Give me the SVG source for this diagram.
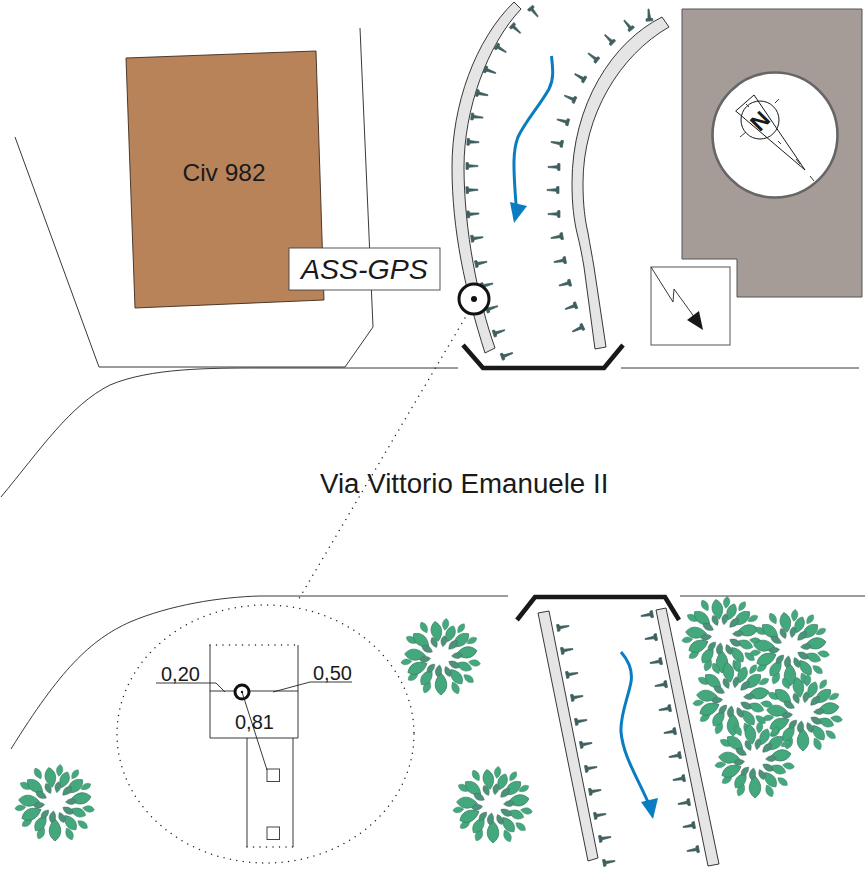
<svg xmlns="http://www.w3.org/2000/svg" width="866" height="870" viewBox="0 0 866 870">
<style>
.ln{fill:none;stroke:#222;stroke-width:.9}
.curb{fill:#e6e5e5;stroke:#222;stroke-width:.9}
.br{fill:none;stroke:#1a1717;stroke-width:4.6}
.blue{fill:none;stroke:#0a7dc2;stroke-width:3}
.bh{fill:#0a7dc2}
.nail{fill:#3e5f5e;stroke:#3e5f5e;stroke-width:.7}
.t{font-family:"Liberation Sans",Arial,sans-serif;fill:#1a1a1a}
.dot{fill:none;stroke:#222;stroke-width:1.5;stroke-linecap:round;stroke-dasharray:0 6.5}
.lf{fill:#43a97c;stroke:#3b7c66;stroke-width:.7}
.lfi{fill:#4c9278;stroke:#37685a;stroke-width:.7}
</style>
<defs>
<path id="nail" d="M-6 -3.400L-3.800 -3.400L-3 -1.300L6 -.5L6 .5L-3 1.300L-3.800 3.400L-6 3.400Z"/>
<path id="leaf" d="M0 -10C7 -5 7 3 0 10C-7 3 -7 -5 0 -10Z"/>
<g id="bush">
<g class="lf">
<use href="#leaf" transform="rotate(8) translate(0,-33) scale(.6)"/>
<use href="#leaf" transform="rotate(35) translate(0,-35) scale(.55)"/>
<use href="#leaf" transform="rotate(62) translate(0,-35) scale(.55)"/>
<use href="#leaf" transform="rotate(100) translate(0,-34) scale(.6)"/>
<use href="#leaf" transform="rotate(128) translate(0,-35) scale(.6)"/>
<use href="#leaf" transform="rotate(155) translate(0,-34) scale(.65)"/>
<use href="#leaf" transform="rotate(205) translate(0,-33) scale(.65)"/>
<use href="#leaf" transform="rotate(235) translate(0,-34) scale(.6)"/>
<use href="#leaf" transform="rotate(262) translate(0,-35) scale(.55)"/>
<use href="#leaf" transform="rotate(300) translate(0,-34) scale(.6)"/>
<use href="#leaf" transform="rotate(330) translate(0,-34) scale(.6)"/>
<use href="#leaf" transform="rotate(-10) translate(0,-26)"/>
<use href="#leaf" transform="rotate(22) translate(0,-25) scale(.85)"/>
<use href="#leaf" transform="rotate(50) translate(0,-26)"/>
<use href="#leaf" transform="rotate(80) translate(0,-26) scale(1.05)"/>
<use href="#leaf" transform="rotate(112) translate(0,-25) scale(.8)"/>
<use href="#leaf" transform="rotate(142) translate(0,-25) scale(.9)"/>
<use href="#leaf" transform="rotate(180) translate(0,-27) scale(1.1)"/>
<use href="#leaf" transform="rotate(215) translate(0,-25) scale(.9)"/>
<use href="#leaf" transform="rotate(245) translate(0,-26) scale(1.05)"/>
<use href="#leaf" transform="rotate(275) translate(0,-26) scale(1.05)"/>
<use href="#leaf" transform="rotate(310) translate(0,-26)"/>
</g>
<g class="lfi">
<use href="#leaf" transform="rotate(10) translate(0,-16) scale(.55)"/>
<use href="#leaf" transform="rotate(45) translate(0,-17) scale(.6)"/>
<use href="#leaf" transform="rotate(85) translate(0,-16) scale(.55)"/>
<use href="#leaf" transform="rotate(120) translate(0,-15) scale(.6)"/>
<use href="#leaf" transform="rotate(155) translate(0,-16) scale(.55)"/>
<use href="#leaf" transform="rotate(190) translate(0,-14) scale(.6)"/>
<use href="#leaf" transform="rotate(222) translate(0,-15) scale(.55)"/>
<use href="#leaf" transform="rotate(262) translate(0,-16) scale(.55)"/>
<use href="#leaf" transform="rotate(300) translate(0,-16) scale(.6)"/>
<use href="#leaf" transform="rotate(335) translate(0,-16) scale(.55)"/>
</g>
</g>
</defs>

<g id="building-civ982">
<polygon points="126,58 316,51 324,300 135,308" fill="#b9835a" stroke="#3c2a1e" stroke-width=".9"/>
<text class="t" x="224" y="181" font-size="24.500" text-anchor="middle">Civ 982</text>
</g>
<g id="building-grey">
<polygon points="682,9 862,9 862,297 737,297 737,259 682,259" fill="#a59c97" stroke="#555" stroke-width="1"/>
</g>
<g id="compass">
<circle cx="775" cy="135" r="62.500" fill="#fff" stroke="#666" stroke-width="2.600"/>
<circle cx="760" cy="120" r="19" fill="none" stroke="#1a1a1a" stroke-width="1"/>
<polygon points="735.700,111 754,95 805,170" fill="none" stroke="#1a1a1a" stroke-width="1"/>
<path class="ln" d="M740 137L746 132M775 103L779 99M746 104L749 107M810 176L814 181M778 141L781 144M796 159L800 164"/>
<text class="t" font-weight="bold" font-size="23" text-anchor="middle" transform="translate(760,121) rotate(-45)" y="8">N</text>
</g>
<g id="north-box">
<rect x="651" y="267" width="79" height="78" fill="#fff" stroke="#555" stroke-width="1"/>
<polyline class="ln" points="651,267 673,302 674,289 695,318" stroke-width="1"/>
<polygon points="687,320 699,311 703,330" fill="#1a1717"/>
</g>
<g id="site-lines">
<path class="ln" d="M15 137L99 367L345 367L373 327L360 28"/>
<path class="ln" d="M1 497C40 450 70 405 110 385C150 368 210 368 260 368L458 368"/>
<path class="ln" d="M621 368L859 368"/>
<path class="ln" d="M11 749C60 670 90 640 130 622C170 605 220 597 260 596L508 596"/>
<path class="ln" d="M680 596L865 596"/>
</g>
<g id="upper-watercourse">
<path class="curb" d="M514 2C475 40 452 105 452 167C452 230 465 290 485 353L495 348C478 300 464 230 464 167C464 110 487 45 521 9Z"/>
<path class="curb" d="M662 17C612 42 572 105 572 183C572 205 574 220 577 233C580 245 582 255 584 267L595 349L606 347L594 267C592 255 590 245 588 233C585 220 583 205 583 183C583 115 620 55 669 27Z"/>
<g class="nail">
<use href="#nail" transform="translate(534,12) rotate(50)"/>
<use href="#nail" transform="translate(516,29) rotate(42)"/>
<use href="#nail" transform="translate(501,49) rotate(32)"/>
<use href="#nail" transform="translate(490,71) rotate(20)"/>
<use href="#nail" transform="translate(482,94) rotate(12)"/>
<use href="#nail" transform="translate(477,117) rotate(6)"/>
<use href="#nail" transform="translate(473,142) rotate(2)"/>
<use href="#nail" transform="translate(472,166)"/>
<use href="#nail" transform="translate(472,190) rotate(-2)"/>
<use href="#nail" transform="translate(473,214) rotate(-5)"/>
<use href="#nail" transform="translate(477,238) rotate(-8)"/>
<use href="#nail" transform="translate(481,263) rotate(-12)"/>
<use href="#nail" transform="translate(487,285) rotate(-14)"/>
<use href="#nail" transform="translate(492,308) rotate(-18)"/>
<use href="#nail" transform="translate(499,332) rotate(-18)"/>
<use href="#nail" transform="translate(507,355) rotate(-20)"/>
<use href="#nail" transform="translate(649,15) rotate(-95)"/>
<use href="#nail" transform="translate(628,25) rotate(-130)"/>
<use href="#nail" transform="translate(609,39) rotate(-135)"/>
<use href="#nail" transform="translate(593,57) rotate(-142)"/>
<use href="#nail" transform="translate(580,77) rotate(-150)"/>
<use href="#nail" transform="translate(570,98) rotate(-157)"/>
<use href="#nail" transform="translate(563,121) rotate(-165)"/>
<use href="#nail" transform="translate(557,143) rotate(-170)"/>
<use href="#nail" transform="translate(554,167) rotate(180)"/>
<use href="#nail" transform="translate(553,190) rotate(180)"/>
<use href="#nail" transform="translate(554,214) rotate(180)"/>
<use href="#nail" transform="translate(557,237) rotate(170)"/>
<use href="#nail" transform="translate(560,261) rotate(170)"/>
<use href="#nail" transform="translate(565,284) rotate(165)"/>
<use href="#nail" transform="translate(571,307) rotate(160)"/>
<use href="#nail" transform="translate(578,329) rotate(155)"/>
</g>
<path class="blue" d="M551.500 56C553 70 554 79 549 89C540 105 525 122 518 137C513 150 513 165 516 204"/>
<polygon class="bh" points="510,202 527,206 514,223"/>
<polyline class="br" points="463,345 483,368 604,368 623,345"/>
</g>
<g id="lower-watercourse">
<polygon class="curb" points="538,613 549,611 598,858 588,861"/>
<polygon class="curb" points="656,610 666,608 719,864 708,866"/>
<g class="nail">
<use href="#nail" transform="translate(563,627) rotate(-10)"/>
<use href="#nail" transform="translate(567,650) rotate(-10)"/>
<use href="#nail" transform="translate(572,674) rotate(-10)"/>
<use href="#nail" transform="translate(577,697) rotate(-10)"/>
<use href="#nail" transform="translate(581,721) rotate(-10)"/>
<use href="#nail" transform="translate(586,744) rotate(-10)"/>
<use href="#nail" transform="translate(591,768) rotate(-10)"/>
<use href="#nail" transform="translate(595,791) rotate(-10)"/>
<use href="#nail" transform="translate(600,815) rotate(-10)"/>
<use href="#nail" transform="translate(605,838) rotate(-10)"/>
<use href="#nail" transform="translate(609,862) rotate(-10)"/>
<use href="#nail" transform="translate(647,615) rotate(170)"/>
<use href="#nail" transform="translate(651,638) rotate(170)"/>
<use href="#nail" transform="translate(656,662) rotate(170)"/>
<use href="#nail" transform="translate(661,685) rotate(170)"/>
<use href="#nail" transform="translate(665,709) rotate(170)"/>
<use href="#nail" transform="translate(670,732) rotate(170)"/>
<use href="#nail" transform="translate(675,756) rotate(170)"/>
<use href="#nail" transform="translate(679,779) rotate(170)"/>
<use href="#nail" transform="translate(684,803) rotate(170)"/>
<use href="#nail" transform="translate(689,826) rotate(170)"/>
<use href="#nail" transform="translate(693,850) rotate(170)"/>
</g>
<path class="blue" d="M621 652C628 660 633 670 631 682C628 698 620 715 621 732C623 755 636 775 648 802"/>
<polygon class="bh" points="641,802 658,798 653,819"/>
<polyline class="br" points="517,620 535,597 665,597 679,620"/>
</g>
<g id="trees">
<use id="tree-1" href="#bush" x="441" y="657"/>
<use id="tree-2" href="#bush" x="55" y="803"/>
<use id="tree-3" href="#bush" x="493" y="805"/>
<use id="tree-4" href="#bush" x="722" y="635"/>
<use id="tree-5" href="#bush" x="790" y="648"/>
<use id="tree-6" href="#bush" x="803" y="713"/>
<use id="tree-7" href="#bush" x="733" y="698"/>
<use id="tree-8" href="#bush" x="755" y="760"/>
</g>
<g id="detail">
<ellipse class="dot" cx="265.500" cy="734" rx="148.500" ry="129"/>
<path class="dot" d="M465 318L297 602"/>
<path class="ln" d="M210 645L210 738L298 738L298 645M210 691L298 691M247 738L247 847M293 738L293 847"/>
<path class="dot" d="M210 645L298 645M247 847L293 847" stroke-dasharray="0 3" stroke-width="1"/>
<rect x="267" y="769" width="12.500" height="12.500" fill="#fff" stroke="#444"/>
<rect x="267" y="827" width="12.500" height="12.500" fill="#fff" stroke="#444"/>
<path class="ln" d="M156 683L216 683L225 692M352 682L310 682L273 692"/>
<circle cx="242" cy="692" r="7" fill="#fff" stroke="#111" stroke-width="3"/>
<circle cx="242" cy="692" r="1.200" fill="#111"/>
<path class="ln" d="M242 692L267 770" stroke-width=".7"/>
<text class="t" x="161" y="681" font-size="20">0,20</text>
<text class="t" x="313" y="680" font-size="20">0,50</text>
<text class="t" x="235" y="729" font-size="20">0,81</text>
</g>
<g id="ass-gps">
<rect x="289" y="248" width="151" height="42" fill="#fff" stroke="#444" stroke-width=".9"/>
<text class="t" x="301" y="279" font-size="28.500" font-style="italic">ASS-GPS</text>
</g>
<g id="well">
<circle cx="474" cy="299" r="15" fill="#fff" stroke="#111" stroke-width="3"/>
<circle cx="474" cy="299" r="3" fill="#111"/>
</g>
<text class="t" x="320" y="493" font-size="27.700">Via Vittorio Emanuele II</text>
</svg>
